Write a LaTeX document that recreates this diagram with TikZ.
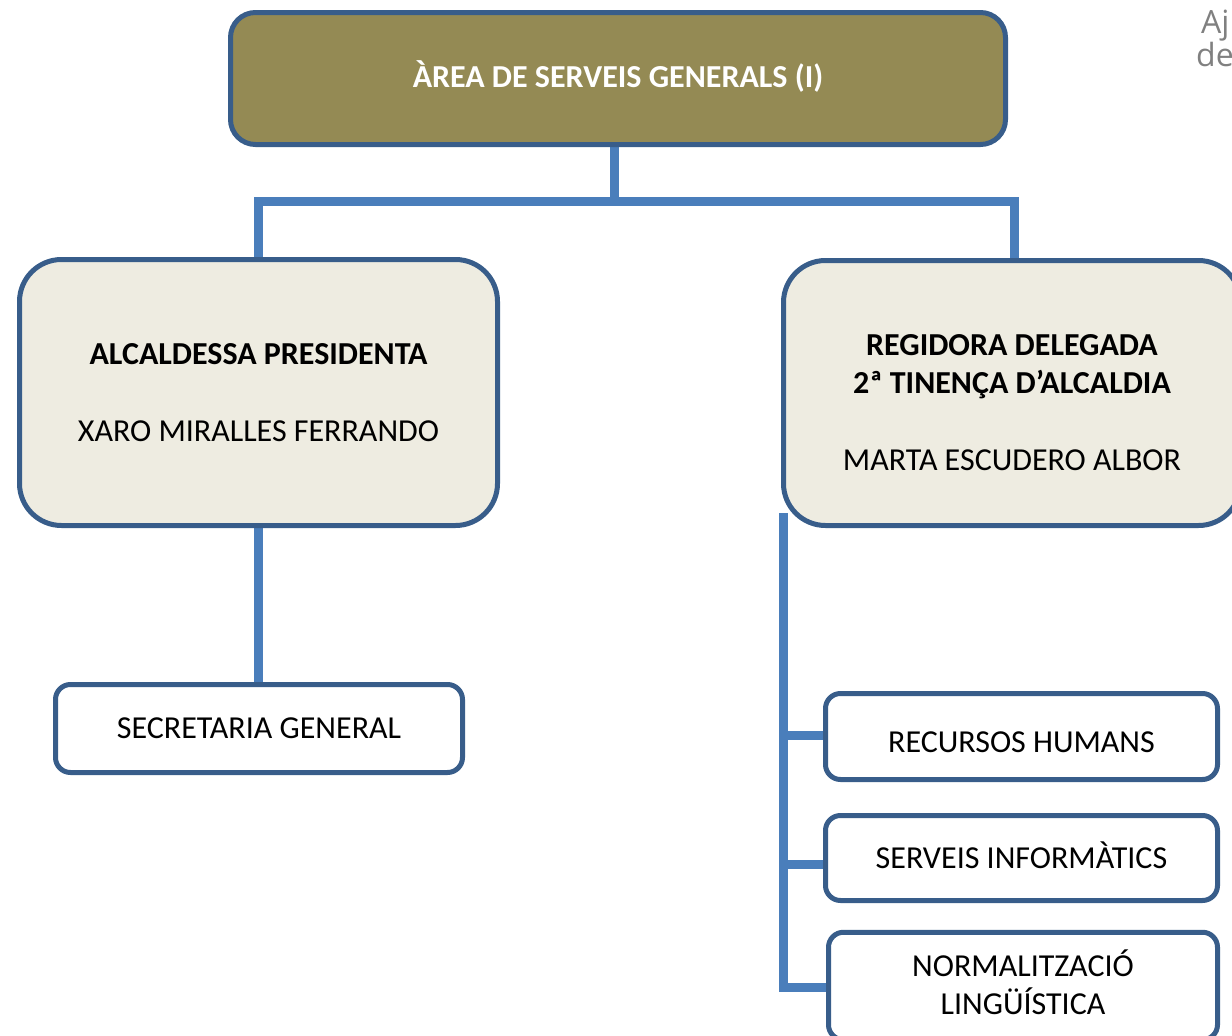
\documentclass[tikz,border=0pt]{standalone}
\usepackage{fontspec}
\setmainfont{Carlito}
\newfontfamily\logofont{Open Sans}
\usetikzlibrary{backgrounds}
\definecolor{boxolive}{HTML}{948A54}
\definecolor{boxbg}{HTML}{EEECE1}
\definecolor{bordblue}{HTML}{385D8A}
\definecolor{linkblue}{HTML}{4A7EBB}
\definecolor{logogray}{HTML}{808080}
\tikzset{
  orgbox/.style={draw=bordblue, line width=5pt, align=center, inner sep=0pt,
    font=\fontsize{32}{38.5}\selectfont},
  bigbox/.style={orgbox, fill=boxbg, rounded corners=42pt},
  smallbox/.style={orgbox, fill=white, rounded corners=15pt},
  link/.style={draw=linkblue, line width=9pt},
  logo/.style={anchor=base west, inner sep=0pt, text=logogray,
    font=\logofont\fontsize{32}{34}\selectfont}
}
\begin{document}
\begin{tikzpicture}[x=1pt,y=-1pt]
\useasboundingbox (0,0) rectangle (1232,1036);
\clip (0,0) rectangle (1232,1036);

% logo text (cut at edge)
\node[logo] (aj) at (1201,34) {Aj};
\node[logo] (de) at (1196,66) {de};

% boxes
\node[orgbox, fill=boxolive, text=white, rounded corners=25pt,
  minimum width=775pt, minimum height=132pt] (top) at (618,78.5)
  {\textbf{ÀREA DE SERVEIS GENERALS (I)}\rule[-8pt]{0pt}{8pt}};

\node[bigbox, minimum width=478pt, minimum height=266pt] (alc) at (258.5,392.5)
  {\textbf{ALCALDESSA PRESIDENTA}\\[38.5pt]XARO MIRALLES FERRANDO};

\node[bigbox, minimum width=457pt, minimum height=265pt] (reg) at (1012,393)
  {\rule{0pt}{40pt}\textbf{REGIDORA DELEGADA}\\\textbf{2ª TINENÇA D’ALCALDIA}\\[38.5pt]MARTA ESCUDERO ALBOR};

\node[smallbox, minimum width=407pt, minimum height=88pt] (sec) at (259,728.5)
  {SECRETARIA GENERAL};

\node[smallbox, minimum width=392pt, minimum height=86pt] (rh) at (1021.5,736.5)
  {\rule{0pt}{32pt}RECURSOS HUMANS};
\node[smallbox, minimum width=392pt, minimum height=85pt] (si) at (1021.5,858)
  {SERVEIS INFORMÀTICS\rule[-6pt]{0pt}{6pt}};
\node[smallbox, minimum width=389pt, minimum height=107.5pt] (nl) at (1023,986)
  {NORMALITZACIÓ\\LINGÜÍSTICA\rule[-8pt]{0pt}{8pt}};

% connector points
\coordinate (j0) at (614,201.5);
\coordinate (jl) at (254,201.5);
\coordinate (jr) at (1019,201.5);
\coordinate (vl) at (258.5,197);
\coordinate (vr) at (1014.5,197);
\coordinate (sp0) at (783.5,513);
\coordinate (sp3) at (783.5,992);
\coordinate (b1) at (779,735);
\coordinate (b2) at (779,864);
\coordinate (b3) at (779,987.5);

\begin{scope}[on background layer]
  \draw[link] (top.south -| j0) -- (j0);
  \draw[link] (jl) -- (jr);
  \draw[link] (vl) -- (alc.north -| vl);
  \draw[link] (vr) -- (reg.north -| vr);
  \draw[link] (alc.south) -- (alc.south |- sec.north);
  \draw[link] (sp0) -- (sp3);
  \draw[link] (b1) -- (b1 -| rh.west);
  \draw[link] (b2) -- (b2 -| si.west);
  \draw[link] (b3) -- (b3 -| nl.west);
\end{scope}
\end{tikzpicture}
\end{document}
